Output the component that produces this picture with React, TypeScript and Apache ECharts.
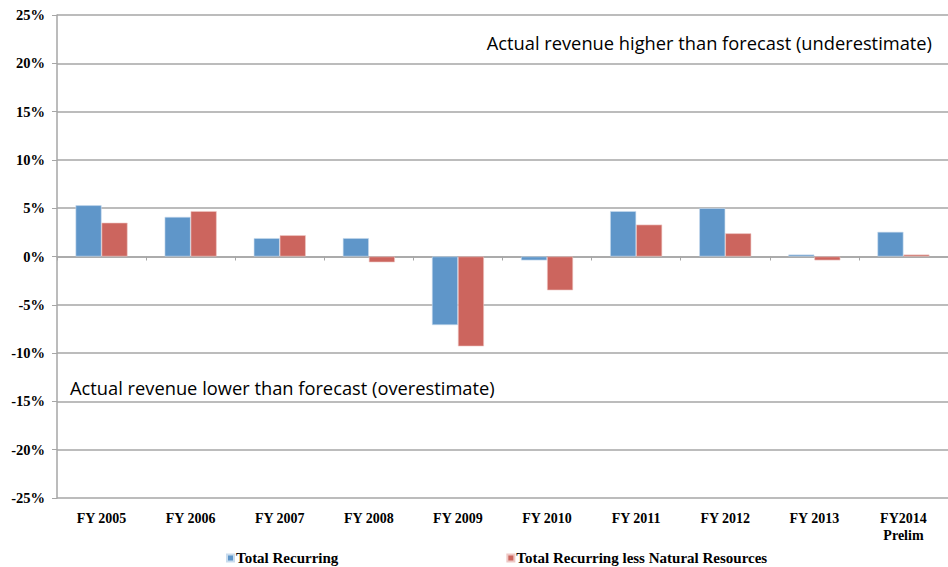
import React, { useEffect, useRef } from "react";
import * as echarts from "echarts";

const categories = ["FY 2005", "FY 2006", "FY 2007", "FY 2008", "FY 2009", "FY 2010", "FY 2011", "FY 2012", "FY 2013", "FY2014\nPrelim"];
const totalRecurring = [5.3, 4.1, 1.9, 1.9, -7.1, -0.4, 4.7, 5.0, 0.2, 2.55];
const lessNaturalResources = [3.5, 4.7, 2.2, -0.6, -9.3, -3.5, 3.3, 2.4, -0.4, 0.2];
const yTicks = { min: -25, max: 25, interval: 5 };
const seriesNames = ["Total Recurring", "Total Recurring less Natural Resources"];
const notes = ["Actual revenue higher than forecast (underestimate)", "Actual revenue lower than forecast (overestimate)"];

const GREY = "#a6a6a6";
const SERIF = "'Liberation Serif', 'DejaVu Serif', serif";

export default function App() {
  const ref = useRef<HTMLDivElement>(null);
  useEffect(() => {
    const chart = echarts.init(ref.current!, null, { renderer: "svg" });
    chart.setOption({
      animation: false,
      backgroundColor: "#fff",
      grid: { left: 57, right: 0, top: 15, bottom: 69, containLabel: false },
      legend: {
        top: 549,
        left: 226,
        padding: 0,
        icon: "rect",
        itemWidth: 7,
        itemHeight: 7,
        itemGap: 168,
        textStyle: { fontFamily: SERIF, fontWeight: "bold", fontSize: 15, lineHeight: 18, color: "#000", padding: [0, 0, 0, -3] },
        data: seriesNames,
      },
      xAxis: [
        {
          type: "category",
          data: categories,
          position: "bottom",
          axisLine: { onZero: false, show: false },
          axisTick: { show: false },
          axisLabel: { fontFamily: SERIF, fontWeight: "bold", fontSize: 14, color: "#000", margin: 12, lineHeight: 17, interval: 0 },
        },
        {
          type: "category",
          data: categories,
          position: "top",
          axisLine: { onZero: true, lineStyle: { color: GREY, width: 1.5 } },
          axisTick: { show: true, inside: true, length: 4, lineStyle: { color: GREY } },
          axisLabel: { show: false },
        },
      ],
      yAxis: {
        type: "value",
        min: yTicks.min,
        max: yTicks.max,
        interval: yTicks.interval,
        axisLine: { show: true, lineStyle: { color: GREY, width: 1.5 } },
        axisTick: { show: true, length: 5, lineStyle: { color: GREY } },
        axisLabel: { fontFamily: SERIF, fontWeight: "bold", fontSize: 14.5, color: "#000", margin: 12, formatter: (v: number) => `${v}%` },
        splitLine: { show: true, lineStyle: { color: GREY, width: 1.5 } },
      },
      series: [
        {
          name: seriesNames[0],
          type: "bar",
          xAxisIndex: 0,
          data: totalRecurring,
          barWidth: 26,
          barGap: "0%",
          itemStyle: { color: "#5f96c9", borderColor: "#c9dcee", borderWidth: 0.6 },
        },
        {
          name: seriesNames[1],
          type: "bar",
          xAxisIndex: 0,
          data: lessNaturalResources,
          barWidth: 26,
          barGap: "0%",
          itemStyle: { color: "#cc655e", borderColor: "#eec8c5", borderWidth: 0.6 },
        },
      ],
      graphic: [
        {
          type: "text",
          right: 16,
          top: 33,
          style: { text: notes[0], font: "18.3px 'Open Sans'", fill: "#000" },
        },
        {
          type: "text",
          left: 70,
          top: 378,
          style: { text: notes[1], font: "18.3px 'Open Sans'", fill: "#000" },
        },
      ],
    });
    return () => chart.dispose();
  }, []);
  return <div ref={ref} style={{ position: "fixed", left: 0, top: 0, width: 948, height: 567 }} />;
}
